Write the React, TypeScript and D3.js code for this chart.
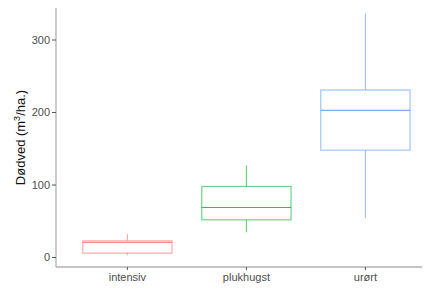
import React from 'react';
import * as d3 from 'd3';

// ==== data

const categories = ['intensiv', 'plukhugst', 'urørt'];
const whiskerLow = [3, 35, 54];
const boxLow = [6, 52, 148];
const medians = [21, 69, 203];
const boxHigh = [23, 98, 231];
const whiskerHigh = [32, 127, 337];
const colors = ['#F8766D', '#00BA38', '#619CFF'];
const yTicks = [0, 100, 200, 300];

// ====

const W = 425;
const H = 291;
const margin = { top: 8, right: 3, bottom: 24, left: 56 };

const App = () => {
    // ggplot-style discrete axis: 0.6 units of expansion on each side
    const step = 119;
    const x = d3.scalePoint()
        .domain(categories)
        .range([margin.left + 0.6 * step, margin.left + 2.6 * step]);
    const y = d3.scaleLinear().domain([0, 100]).range([257.5, 185]);

    const bw = step * 0.75;

    return (
        <svg width={W} height={H} style={{ position: 'absolute', left: 0, top: 0 }}
            fontFamily="Liberation Sans, Arial, sans-serif">
            <rect width={W} height={H} fill="#fff" />
            {/* axes */}
            <line x1={margin.left} x2={margin.left} y1={margin.top} y2={H - margin.bottom}
                stroke="#b0b0b0" strokeWidth={1.3} />
            <line x1={margin.left} x2={W - margin.right} y1={H - margin.bottom} y2={H - margin.bottom}
                stroke="#b0b0b0" strokeWidth={1.3} />
            {yTicks.map((t) => (
                <g key={t}>
                    <line x1={margin.left - 4} x2={margin.left} y1={y(t)} y2={y(t)} stroke="#555" />
                    <text x={margin.left - 6} y={y(t)} dy="0.35em" textAnchor="end"
                        fontSize={11} fill="#4d4d4d">{t}</text>
                </g>
            ))}
            {categories.map((c) => {
                const cx = x(c)!;
                return (
                    <g key={c}>
                        <line x1={cx} x2={cx} y1={H - margin.bottom} y2={H - margin.bottom + 3} stroke="#555" />
                        <text x={cx} y={277} dy="0.35em" textAnchor="middle" fontSize={11} fill="#4d4d4d">{c}</text>
                    </g>
                );
            })}
            <text transform={`translate(20,${(margin.top + H - margin.bottom) / 2}) rotate(-90)`}
                textAnchor="middle" dy="0.35em" fontSize={13} fill="#111">
                Dødved (m<tspan dy="-5" fontSize={9}>3</tspan><tspan dy="5">/ha.)</tspan>
            </text>
            {/* boxes */}
            {categories.map((c, i) => {
                const cx = x(c)!;
                const x0 = cx - bw / 2;
                return (
                    <g key={c} stroke={colors[i]} fill="none" strokeWidth={1.2}>
                        <line x1={cx} x2={cx} y1={y(whiskerHigh[i])} y2={y(boxHigh[i])} strokeOpacity={0.6} />
                        <line x1={cx} x2={cx} y1={y(boxLow[i])} y2={y(whiskerLow[i])} strokeOpacity={0.6} />
                        <rect x={x0} width={bw} y={y(boxHigh[i])} height={y(boxLow[i]) - y(boxHigh[i])}
                            strokeOpacity={0.6} />
                        <line x1={x0} x2={x0 + bw} y1={y(medians[i])} y2={y(medians[i])} strokeOpacity={0.85} />
                    </g>
                );
            })}
        </svg>
    );
};

export default App;
